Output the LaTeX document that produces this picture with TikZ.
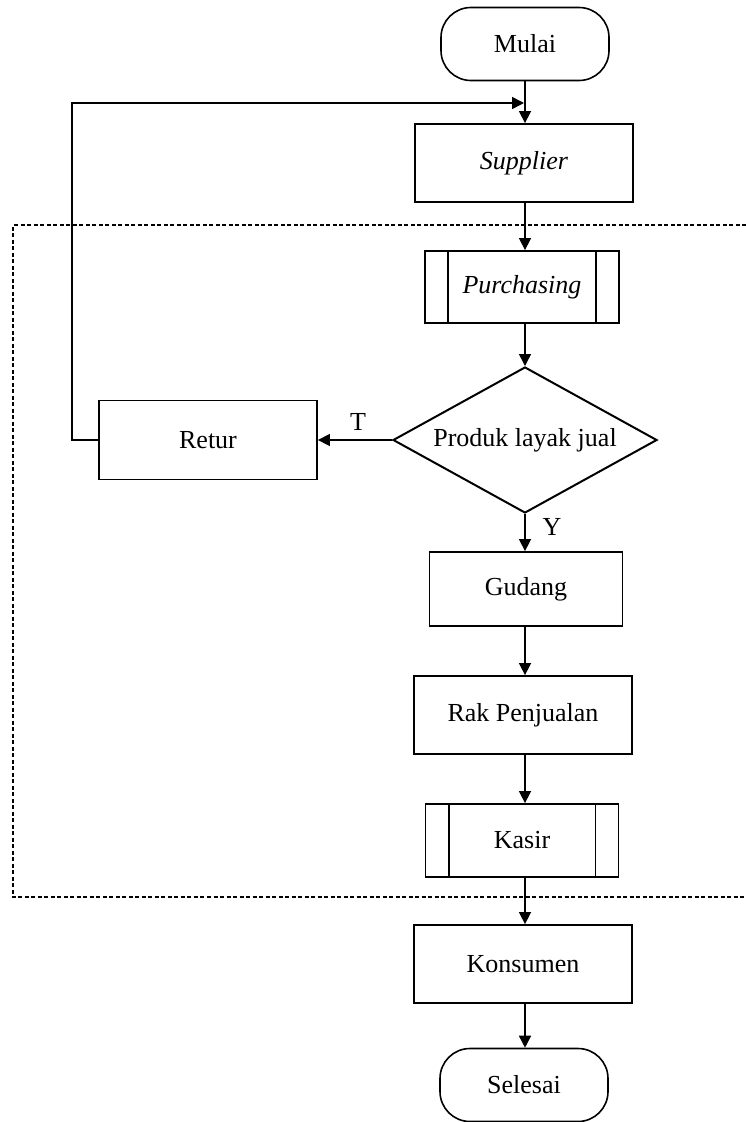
\documentclass[tikz,border=0pt]{standalone}
\usepackage{fontspec}
\setmainfont{Liberation Serif}
\usetikzlibrary{shapes.geometric,arrows.meta}
\begin{document}
\begin{tikzpicture}[x=1pt,y=-1pt,
  font=\fontsize{26}{30}\selectfont,
  box/.style={draw,line width=1.8pt,minimum width=#1,inner sep=0pt},
  box/.default=218pt,
  terminal/.style={draw,line width=1.6pt,rounded corners=30pt,minimum width=168pt,minimum height=73pt,inner sep=0pt},
  decision/.style={draw,diamond,line width=2pt,minimum width=264pt,minimum height=146pt,inner sep=0pt,aspect=1.8},
  flow/.style={line width=1.5pt,-{Triangle[length=12pt,width=12pt]}},
  region/.style={line width=1.2pt,dash pattern=on 4pt off 2.5pt},
  lbl/.style={inner sep=0pt}]
\useasboundingbox (0,0) rectangle (746,1122);

% dashed boundary of the store process
\draw[region] (746,225) -- (13,225) -- (13,897) -- (746,897);

% main column
\node[terminal] (mulai) at (525,44) {Mulai};
\node[box,minimum height=78pt] (supplier) at (524,163) {\itshape Supplier};
\node[box=194pt,minimum height=72pt] (purch) at (522,287) {\itshape Purchasing};
\node[decision] (cek) at (525,440) {Produk layak jual};
\node[box,minimum height=79pt] (retur) at (208,440) {Retur};
\node[box=193pt,minimum height=74pt] (gudang) at (526,589) {Gudang};
\node[box,minimum height=78pt] (rak) at (523,715) {Rak Penjualan};
\node[box=193pt,minimum height=73pt] (kasir) at (522,840.5) {Kasir};
\node[box,minimum height=78pt] (konsumen) at (523,964) {Konsumen};
\node[terminal] (selesai) at (524,1085) {Selesai};

% inner bars of the predefined-process boxes
\foreach \n in {purch,kasir}{
  \draw[line width=1.8pt] ([xshift=24pt]\n.north west) -- ([xshift=24pt]\n.south west);
  \draw[line width=1.8pt] ([xshift=-24pt]\n.north east) -- ([xshift=-24pt]\n.south east);
}

% connectors
\coordinate (top) at (525,44);
\coordinate (join) at (525,103);
\draw[flow] (mulai.south -| top) -- (supplier.north -| top);
\draw[flow] (supplier.south -| top) -- (purch.north -| top);
\draw[flow] (purch.south -| top) -- (cek.north);
\draw[flow] (cek.south) -- (gudang.north -| top);
\draw[flow] (gudang.south -| top) -- (rak.north -| top);
\draw[flow] (rak.south -| top) -- (kasir.north -| top);
\draw[flow] (kasir.south -| top) -- (konsumen.north -| top);
\draw[flow] (konsumen.south -| top) -- (selesai.north -| top);
\draw[flow] (cek.west) -- (retur.east);
\draw[flow] (retur.west) -- ++(-26,0) |- ([xshift=-1pt]join);

% branch labels
\node[lbl] (t) at (358,422) {T};
\node[lbl] (y) at (552,527) {Y};
\end{tikzpicture}
\end{document}
